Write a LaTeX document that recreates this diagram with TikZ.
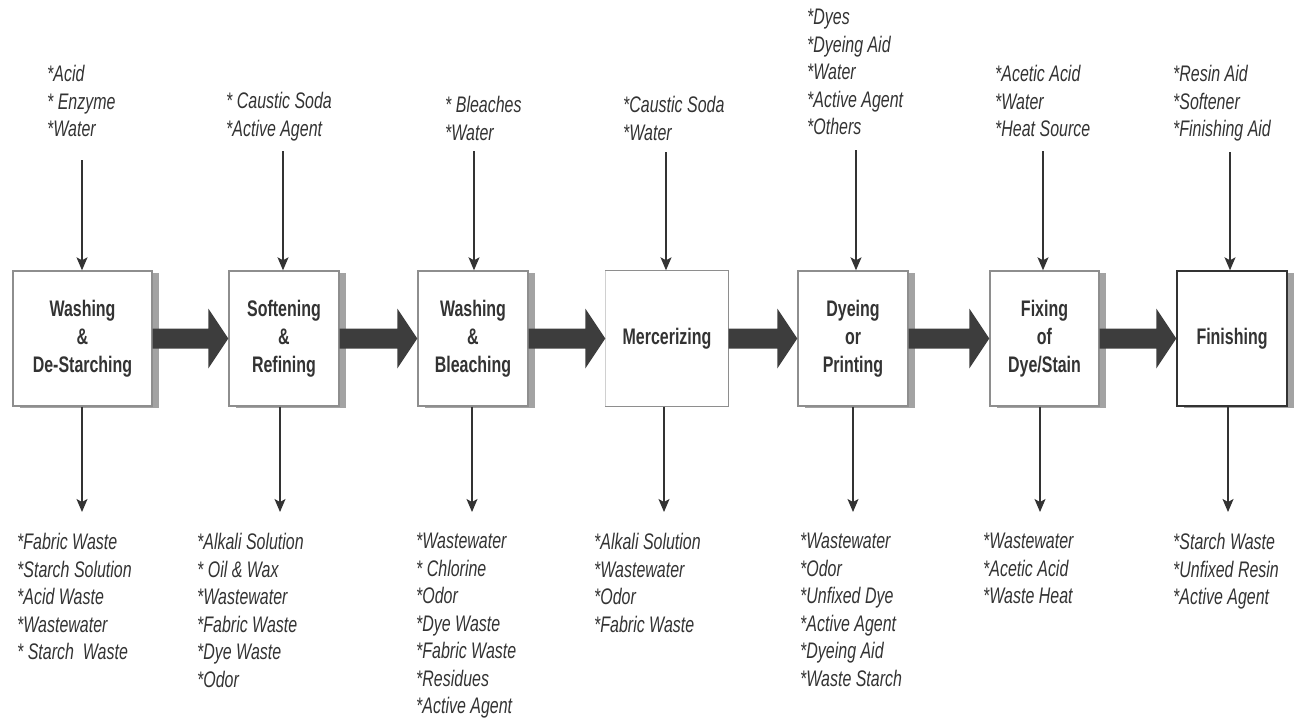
\documentclass[tikz,border=0pt]{standalone}
\usepackage{fontspec}
\setmainfont{Liberation Sans}[FakeStretch=0.71]
\newfontfamily\stagefont{Liberation Sans}[FakeStretch=0.71]
\usetikzlibrary{arrows.meta,shadows,calc}

\definecolor{ink}{HTML}{333333}
\definecolor{edge}{HTML}{8E8E8E}
\definecolor{faint}{HTML}{D0D0D0}
\definecolor{shade}{HTML}{A3A3A3}
\definecolor{heavy}{HTML}{3D3D3D}

\tikzset{
  stage/.style={draw=edge, line width=1.4pt, fill=white, inner sep=0pt,
    align=center, text=ink, font=\stagefont\bfseries\fontsize{22.5}{28}\selectfont,
    minimum height=135pt},
  shaded/.style={drop shadow={shadow xshift=7pt, shadow yshift=-2pt,
    fill=shade, opacity=1}},
  flow/.style={draw=ink, line width=1.3pt,
    -{Stealth[length=13pt,width=11pt,inset=3pt]}},
  items/.style={anchor=north west, inner sep=0pt, align=left, text=ink,
    font=\itshape\fontsize{22.5}{27.5}\selectfont},
}

% thick block arrow from the east side of one stage to the west side of the next
\newcommand\bigflow[2]{%
  \fill[heavy] ($(#1.east)+(0,-10)$) -- ($(#2.west)+(-20,-10)$)
    -- ($(#2.west)+(-20,-30)$) -- (#2.west) -- ($(#2.west)+(-20,30)$)
    -- ($(#2.west)+(-20,10)$) -- ($(#1.east)+(0,10)$) -- cycle;}

\begin{document}
\begin{tikzpicture}[x=1pt,y=-1pt]
\useasboundingbox (0,0) rectangle (1297,721);

% process stages
\node[stage, shaded, minimum width=139pt] (b1) at (82.5,338.5) {Washing\\\&\\De-Starching};
\node[stage, shaded, minimum width=110pt] (b2) at (284,338.5) {Softening\\\&\\Refining};
\node[stage, shaded, minimum width=110pt] (b3) at (473,338.5) {Washing\\\&\\Bleaching};
\node[stage, draw=none, minimum width=122pt] (b4) at (667,338.5) {Mercerizing};
\draw[faint, line width=1pt] (b4.north west) -- (b4.south west);
\draw[edge, line width=1.4pt] (b4.north west) -- (b4.north east) -- (b4.south east) -- (b4.south west);
\node[stage, shaded, minimum width=110pt] (b5) at (853,338.5) {Dyeing\\or\\Printing};
\node[stage, shaded, minimum width=109pt] (b6) at (1044.5,338.5) {Fixing\\of\\Dye/Stain};
\node[stage, shaded, draw=ink, minimum width=110pt] (b7) at (1232,338.5) {Finishing};

% main process flow
\bigflow{b1}{b2}
\bigflow{b2}{b3}
\bigflow{b3}{b4}
\bigflow{b4}{b5}
\bigflow{b5}{b6}
\bigflow{b6}{b7}

% inputs
\coordinate (t1) at (82,160);
\coordinate (t2) at (283,151);
\coordinate (t3) at (474,151);
\coordinate (t4) at (666,152);
\coordinate (t5) at (856,150);
\coordinate (t6) at (1043,151);
\coordinate (t7) at (1230,152);
\foreach \i in {1,...,7}{\draw[flow] (t\i) -- (t\i |- b\i.north);}

% outputs
\coordinate (o1) at (82,512);
\coordinate (o2) at (280,512);
\coordinate (o3) at (472,512);
\coordinate (o4) at (664,512);
\coordinate (o5) at (853,512);
\coordinate (o6) at (1040,512);
\coordinate (o7) at (1228,512);
\foreach \i in {1,...,7}{\draw[flow] (o\i |- b\i.south) -- (o\i);}

% input lists
\node[items] (in1) at (47,65) {*Acid\\* Enzyme\\*Water};
\node[items] (in2) at (226,92) {* Caustic Soda\\*Active Agent};
\node[items] (in3) at (445,96) {* Bleaches\\*Water};
\node[items] (in4) at (623,96) {*Caustic Soda\\*Water};
\node[items] (in5) at (807,9) {*Dyes\\*Dyeing Aid\\*Water\\*Active Agent\\*Others};
\node[items] (in6) at (995,65) {*Acetic Acid\\*Water\\*Heat Source};
\node[items] (in7) at (1173,65) {*Resin Aid\\*Softener\\*Finishing Aid};

% output lists
\node[items] (out1) at (17,533) {*Fabric Waste\\*Starch Solution\\*Acid Waste\\*Wastewater\\* Starch\ \ Waste};
\node[items] (out2) at (197,533) {*Alkali Solution\\* Oil \& Wax\\*Wastewater\\*Fabric Waste\\*Dye Waste\\*Odor};
\node[items] (out3) at (416,533) {*Wastewater\\* Chlorine\\*Odor\\*Dye Waste\\*Fabric Waste\\*Residues\\*Active Agent};
\node[items] (out4) at (594,533) {*Alkali Solution\\*Wastewater\\*Odor\\*Fabric Waste};
\node[items] (out5) at (800,533) {*Wastewater\\*Odor\\*Unfixed Dye\\*Active Agent\\*Dyeing Aid\\*Waste Starch};
\node[items] (out6) at (983,533) {*Wastewater\\*Acetic Acid\\*Waste Heat};
\node[items] (out7) at (1173,533) {*Starch Waste\\*Unfixed Resin\\*Active Agent};
\end{tikzpicture}
\end{document}
